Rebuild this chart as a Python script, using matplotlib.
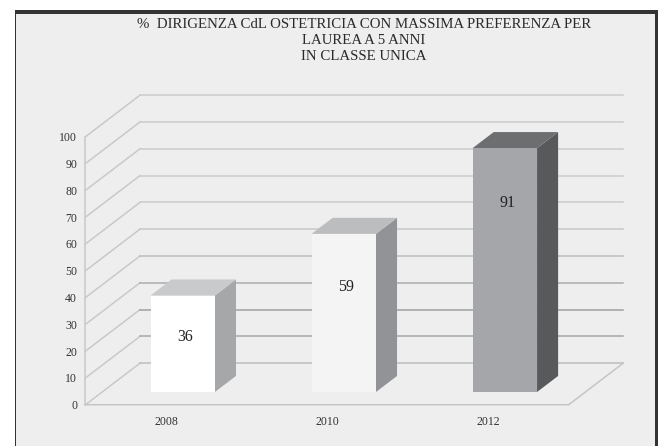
#################### Load Libraries #################

import matplotlib
matplotlib.use('Agg')
import matplotlib.pyplot as plt
from matplotlib.patches import Polygon, Rectangle

################ Chart data #########################

years = ['2008', '2010', '2012']
values = [36, 59, 91]
ticks = [0, 10, 20, 30, 40, 50, 60, 70, 80, 90, 100]
title_lines = ['%  DIRIGENZA CdL OSTETRICIA CON MASSIMA PREFERENZA PER',
               'LAUREA A 5 ANNI',
               'IN CLASSE UNICA']

front_colors = ['#ffffff', '#f4f4f4', '#a5a6a9']
side_colors = ['#a6a7a9', '#929396', '#58595b']
top_colors = ['#c9cacb', '#bcbdbf', '#6d6e70']
grid_colors = ['#bcbdbe', '#a6a7a8', '#9fa0a1', '#abacad', '#bcbdbe', '#c6c7c8',
               '#cbcccd', '#cbcccd', '#cbcccd', '#cbcccd', '#cbcccd']

################ Oblique projection #################

depth_x = 0.3385   # full floor depth, in category widths
depth_y = 15.5     # full floor depth, in value units
bar_w = 0.4
bar_d0 = 0.306     # bar front face, fraction of the floor depth
bar_d1 = 0.692     # bar back face


def proj(x, y, d):
    return (x + d * depth_x, y + d * depth_y)


################ Figure and frame ###################

W, H = 664, 446
fig = plt.figure(figsize=(W / 100, H / 100), dpi=100, facecolor='white')
plt.rcParams['font.family'] = ['Liberation Serif', 'DejaVu Serif']

fig.add_artist(Rectangle((15 / W, 0), 642 / W, 1 - 11 / H, transform=fig.transFigure,
                         fc='#eeeeee', ec='none', zorder=-3))
fig.add_artist(Rectangle((15 / W, 1 - 13.5 / H), 643 / W, 3 / H, transform=fig.transFigure,
                         fc='#333333', ec='none', zorder=-2))
fig.add_artist(Rectangle((15 / W, 0), 1.2 / W, 1 - 11 / H, transform=fig.transFigure,
                         fc='#333333', ec='none', zorder=-2))
fig.add_artist(Rectangle((655 / W, 0), 3 / W, 1 - 11 / H, transform=fig.transFigure,
                         fc='#333333', ec='none', zorder=-2))

################ Axes ###############################

ax = fig.add_axes([85.5 / W, 1 - 404.7 / H, 483.2 / W, 268 / H])
ax.set_xlim(-0.5, 2.5)
ax.set_ylim(0, 100)
ax.patch.set_alpha(0)
for s in ax.spines.values():
    s.set_visible(False)

ax.set_yticks(ticks)
ax.set_yticklabels([str(t) for t in ticks], fontsize=8.5, color='#333333')
ax.set_xticks(range(len(years)))
ax.set_xticklabels(years, fontsize=8.5, color='#333333')
ax.tick_params(axis='y', length=0, pad=6)
ax.tick_params(axis='x', length=0, pad=8)

################ Walls and floor ####################

x0, x1 = -0.5, 2.5
for t, c in zip(ticks, grid_colors):
    xs, ys = zip(proj(x0, t, 0), proj(x0, t, 1))
    ax.plot(xs, ys, color='#c8c9ca', lw=1.1, clip_on=False, zorder=1)
    xs, ys = zip(proj(x0, t, 1), proj(x1, t, 1))
    ax.plot(xs, ys, color=c, lw=1.1, clip_on=False, zorder=1)

ax.plot([x0, x0], [0, 100], color='#c8c9ca', lw=1.1, clip_on=False, zorder=1)
xs, ys = zip(proj(x0, 0, 0), proj(x1, 0, 0), proj(x1, 0, 1))
ax.plot(xs, ys, color='#c4c5c6', lw=1.1, clip_on=False, zorder=1)

################ Bars ###############################

label_heights = [20.5, 39.2, 70.5]   # where the value label sits on each front face

for i, v in enumerate(values):
    l, r = i - bar_w / 2, i + bar_w / 2
    front = [proj(l, 0, bar_d0), proj(r, 0, bar_d0), proj(r, v, bar_d0), proj(l, v, bar_d0)]
    side = [proj(r, 0, bar_d0), proj(r, 0, bar_d1), proj(r, v, bar_d1), proj(r, v, bar_d0)]
    top = [proj(l, v, bar_d0), proj(r, v, bar_d0), proj(r, v, bar_d1), proj(l, v, bar_d1)]
    ax.add_patch(Polygon(side, fc=side_colors[i], ec='none', clip_on=False, zorder=3))
    ax.add_patch(Polygon(top, fc=top_colors[i], ec='none', clip_on=False, zorder=3))
    ax.add_patch(Polygon(front, fc=front_colors[i], ec='none', clip_on=False, zorder=4))
    lx, ly = proj(i, label_heights[i], bar_d0)
    ax.text(lx + 0.015, ly, str(v), ha='center', va='center', fontsize=11.5,
            color='#222222', zorder=5)

################ Title ##############################

for n, line in enumerate(title_lines):
    fig.text(364 / W, 1 - (25 + 15.8 * n) / H, line, ha='center', va='center',
             fontsize=10.7, color='#2a2a2a')

################ Save output to file ################

fig.savefig('out.png', dpi=100, facecolor='white')
